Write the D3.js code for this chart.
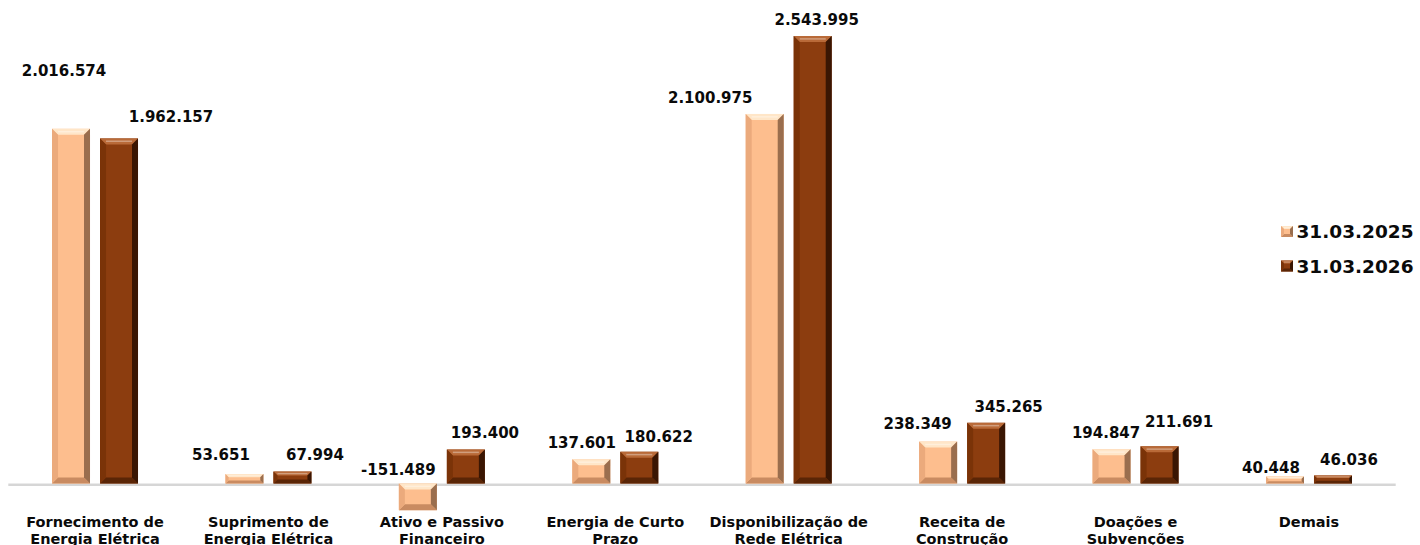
<!DOCTYPE html>
<html>
<head>
<meta charset="utf-8">
<script src="https://cdn.jsdelivr.net/npm/d3@7"></script>
<style>
  html, body { margin: 0; padding: 0; background: #ffffff; overflow: hidden; }
  svg { display: block; }
  text { font-family: "DejaVu Sans", Verdana, sans-serif; font-weight: bold; fill: #0a0a0a; }
</style>
</head>
<body>
<svg id="chart" width="1420" height="545"></svg>
<script>
// ---- data ----
const categories = [
  ["Fornecimento de", "Energia Elétrica"],
  ["Suprimento de", "Energia Elétrica"],
  ["Ativo e Passivo", "Financeiro"],
  ["Energia de Curto", "Prazo"],
  ["Disponibilização de", "Rede Elétrica"],
  ["Receita de", "Construção"],
  ["Doações e", "Subvenções"],
  ["Demais"]
];
const seriesNames = ["31.03.2025", "31.03.2026"];
const values2025 = [2016574, 53651, -151489, 137601, 2100975, 238349, 194847, 40448];
const values2026 = [1962157, 67994, 193400, 180622, 2543995, 345265, 211691, 46036];

// label nudges (layout only, pixels relative to bar end)
const labelDx2025 = [-7, -23.5, -19.5, -9.5, -54.5, -20.5, -5.5, -14];
const labelDy2025 = [52.8, 14.1, 8.5, 11.3, 10.9, 12.6, 11.2, 3.4];
const labelDx2026 = [52, 22.5, 19, 19.5, 4, 22.5, 19.5, 16];
const labelDy2026 = [16.4, 11.5, 11.5, 9.7, 11, 10.8, 19.3, 10.4];

const fmt = v => d3.format(",")(v).replace(/,/g, ".").replace(/\u2212/g, "-");

const svg = d3.select("#chart");
const keys = ["s0", "s1"];
const catIdx = categories.map((c, i) => i);

const x0 = d3.scaleBand().domain(catIdx).range([8.3, 1395.7]).padding(0);
const x1 = d3.scaleBand().domain(keys).range([-43, 43]).paddingInner(10 / 48).paddingOuter(0);
const y = d3.scaleLinear().domain([-200000, 2600000]).range([518.7, 26.2]);

const palettes = {
  s0: { face: "#FDBE8E", top: "#FFE6C8", left: "#EBAA7C", right: "#9A6E4E", bottom: "#C98B61" },
  s1: { face: "#8C3D0F", top: "#B96A38", left: "#7A3308", right: "#3A1603", bottom: "#5A2506" }
};

// axis baseline
svg.append("rect")
  .attr("x", x0.range()[0]).attr("y", y(0))
  .attr("width", x0.range()[1] - x0.range()[0]).attr("height", 2.5)
  .attr("fill", "#d6d6d6");

function bevelBar(g, xa, xb, ya, yb, pal) {
  const h = yb - ya, w = xb - xa;
  const b = Math.max(1, Math.min(6, h / 3, w / 4));
  g.append("rect").attr("x", xa).attr("y", ya).attr("width", w).attr("height", h).attr("fill", pal.face);
  const poly = (pts, fill) => g.append("polygon").attr("points", pts.map(p => p.join(",")).join(" ")).attr("fill", fill);
  poly([[xa, ya], [xb, ya], [xb - b, ya + b], [xa + b, ya + b]], pal.top);
  poly([[xa, yb], [xb, yb], [xb - b, yb - b], [xa + b, yb - b]], pal.bottom);
  poly([[xa, ya], [xa + b, ya + b], [xa + b, yb - b], [xa, yb]], pal.left);
  poly([[xb, ya], [xb - b, ya + b], [xb - b, yb - b], [xb, yb]], pal.right);
  g.append("rect").attr("x", xa + b).attr("y", ya + b * 0.35).attr("width", Math.max(0, w - 2 * b)).attr("height", Math.min(1.5, b / 3))
    .attr("fill", "#ffffff").attr("opacity", 0.35);
}

const data = catIdx.map(i => ({ i, s0: values2025[i], s1: values2026[i] }));
const dx = { s0: labelDx2025, s1: labelDx2026 };
const dy = { s0: labelDy2025, s1: labelDy2026 };

const groups = svg.append("g").selectAll("g").data(data).join("g")
  .attr("transform", d => `translate(${x0(d.i) + x0.bandwidth() / 2},0)`);

groups.each(function (d) {
  const g = d3.select(this);
  keys.forEach(k => {
    const v = d[k];
    const xa = x1(k), xb = x1(k) + x1.bandwidth();
    const ya = Math.min(y(v), y(0)), yb = Math.max(y(v), y(0));
    bevelBar(g, xa, xb, ya, yb, palettes[k]);
    const anchorY = v >= 0 ? y(v) : y(0);
    g.append("text")
      .attr("x", (xa + xb) / 2 + dx[k][d.i])
      .attr("y", anchorY - dy[k][d.i])
      .attr("text-anchor", "middle")
      .style("font-size", "15px")
      .text(fmt(v));
  });
});

// category labels
const catG = svg.append("g");
categories.forEach((lines, i) => {
  const t = catG.append("text")
    .attr("x", x0(i) + x0.bandwidth() / 2)
    .attr("y", 527)
    .attr("text-anchor", "middle")
    .style("font-size", "14.5px");
  lines.forEach((ln, j) => {
    t.append("tspan").attr("x", x0(i) + x0.bandwidth() / 2).attr("dy", j === 0 ? 0 : 17).text(ln);
  });
});

// legend
const leg = svg.append("g").attr("transform", "translate(1281,226)");
keys.forEach((k, j) => {
  const lg = leg.append("g").attr("transform", `translate(0,${j * 34.5})`);
  bevelBar(lg, 0, 12, 0, 11, palettes[k]);
  lg.append("text").attr("x", 15.5).attr("y", 12).style("font-size", "18.5px").text(seriesNames[j]);
});
</script>
</body>
</html>
